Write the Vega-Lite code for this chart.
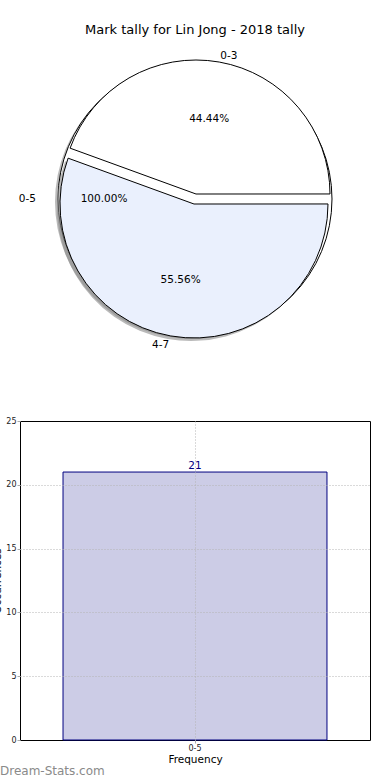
{
  "$schema": "https://vega.github.io/schema/vega-lite/v6.json",
  "padding": {"left": -8, "top": 24, "right": 0, "bottom": 0},
  "background": "white",
  "spacing": 59,
  "config": {"font": "DejaVu Sans", "view": {"stroke": null}},
  "datasets": {
    "whole": [{"label": "0-5", "pct": 100, "pctText": "100.00%"}],
    "slices": [
      {"label": "0-3", "pct": 44.44, "pctText": "44.44%"},
      {"label": "4-7", "pct": 55.56, "pctText": "55.56%"}
    ],
    "bars": [{"range": "0-5", "count": 21}]
  },
  "vconcat": [
    {
      "width": 350,
      "height": 316,
      "title": {"text": "Mark tally for Lin Jong - 2018 tally", "fontSize": 13, "fontWeight": "normal", "anchor": "middle", "offset": 4, "color": "#000000"},
      "resolve": {"scale": {"theta": "independent"}},
      "layer": [
        {
          "data": {"name": "whole"},
          "mark": {"type": "arc", "radius": 137, "fill": "#8c8c8c", "fillOpacity": 0.6, "xOffset": -3, "yOffset": 3},
          "encoding": {"theta": {"field": "pct", "type": "quantitative", "scale": {"domain": [0, 100], "range": [1.5708, 7.854]}}}
        },
        {
          "data": {"name": "whole"},
          "mark": {"type": "arc", "radius": 137, "fill": "white", "stroke": "black", "strokeWidth": 1},
          "encoding": {"theta": {"field": "pct", "type": "quantitative", "scale": {"domain": [0, 100], "range": [1.5708, 7.854]}}}
        },
        {
          "data": {"name": "slices"},
          "transform": [{"stack": "pct", "groupby": [], "as": ["s0", "s1"]}, {"filter": "datum.label === '4-7'"}],
          "mark": {"type": "arc", "radius": 134, "fill": "#8c8c8c", "fillOpacity": 0.6, "xOffset": -4, "yOffset": 8},
          "encoding": {
            "theta": {"field": "s0", "type": "quantitative", "scale": {"domain": [0, 100], "range": [-1.2217, 5.0615]}},
            "theta2": {"field": "s1"}
          }
        },
        {
          "data": {"name": "slices"},
          "transform": [{"stack": "pct", "groupby": [], "as": ["s0", "s1"]}, {"filter": "datum.label === '0-3'"}],
          "mark": {"type": "arc", "radius": 134, "fill": "white", "stroke": "black", "strokeWidth": 1, "xOffset": 1, "yOffset": -5},
          "encoding": {
            "theta": {"field": "s0", "type": "quantitative", "scale": {"domain": [0, 100], "range": [-1.2217, 5.0615]}},
            "theta2": {"field": "s1"}
          }
        },
        {
          "data": {"name": "slices"},
          "transform": [{"stack": "pct", "groupby": [], "as": ["s0", "s1"]}, {"filter": "datum.label === '4-7'"}],
          "mark": {"type": "arc", "radius": 134, "fill": "#eaf0fd", "stroke": "black", "strokeWidth": 1, "xOffset": -1, "yOffset": 5},
          "encoding": {
            "theta": {"field": "s0", "type": "quantitative", "scale": {"domain": [0, 100], "range": [-1.2217, 5.0615]}},
            "theta2": {"field": "s1"}
          }
        },
        {
          "data": {"name": "slices"},
          "mark": {"type": "text", "radius": 140, "align": "left", "baseline": "middle", "fontSize": 10.5, "xOffset": 1, "yOffset": -5, "color": "#000000"},
          "encoding": {
            "theta": {"field": "pct", "type": "quantitative", "stack": true, "scale": {"domain": [0, 100], "range": [-1.2217, 5.0615]}},
            "text": {"condition": {"test": "datum.label === '0-3'", "field": "label"}, "value": ""}
          }
        },
        {
          "data": {"name": "slices"},
          "mark": {"type": "text", "radius": 143, "align": "right", "baseline": "middle", "fontSize": 10.5, "xOffset": -1, "yOffset": 5, "color": "#000000"},
          "encoding": {
            "theta": {"field": "pct", "type": "quantitative", "stack": true, "scale": {"domain": [0, 100], "range": [-1.2217, 5.0615]}},
            "text": {"condition": {"test": "datum.label === '4-7'", "field": "label"}, "value": ""}
          }
        },
        {
          "data": {"name": "slices"},
          "mark": {"type": "text", "radius": 76, "align": "center", "baseline": "middle", "fontSize": 10.5, "xOffset": 1, "yOffset": -5, "color": "#000000"},
          "encoding": {
            "theta": {"field": "pct", "type": "quantitative", "stack": true, "scale": {"domain": [0, 100], "range": [-1.2217, 5.0615]}},
            "text": {"condition": {"test": "datum.label === '0-3'", "field": "pctText"}, "value": ""}
          }
        },
        {
          "data": {"name": "slices"},
          "mark": {"type": "text", "radius": 77, "align": "center", "baseline": "middle", "fontSize": 10.5, "xOffset": -1, "yOffset": 5, "color": "#000000"},
          "encoding": {
            "theta": {"field": "pct", "type": "quantitative", "stack": true, "scale": {"domain": [0, 100], "range": [-1.2217, 5.0615]}},
            "text": {"condition": {"test": "datum.label === '4-7'", "field": "pctText"}, "value": ""}
          }
        },
        {
          "data": {"name": "whole"},
          "mark": {"type": "text", "radius": 159, "align": "right", "baseline": "middle", "fontSize": 10.5, "color": "#000000"},
          "encoding": {
            "theta": {"field": "pct", "type": "quantitative", "stack": true, "scale": {"domain": [0, 100], "range": [1.5708, 7.854]}},
            "text": {"field": "label"}
          }
        },
        {
          "data": {"name": "whole"},
          "mark": {"type": "text", "radius": 91, "align": "center", "baseline": "middle", "fontSize": 10.5, "color": "#000000"},
          "encoding": {
            "theta": {"field": "pct", "type": "quantitative", "stack": true, "scale": {"domain": [0, 100], "range": [1.5708, 7.854]}},
            "text": {"field": "pctText"}
          }
        }
      ]
    },
    {
      "width": 350,
      "height": 319,
      "data": {"name": "bars"},
      "view": {"stroke": "black", "strokeWidth": 1},
      "title": {"text": "Dream-Stats.com", "orient": "bottom", "anchor": "start", "frame": "group", "dx": -20, "offset": 1, "fontSize": 12, "fontWeight": "normal", "color": "#8a8a8a"},
      "encoding": {
        "x": {
          "field": "range", "type": "nominal",
          "scale": {"paddingInner": 0, "paddingOuter": 0.163},
          "axis": {"title": "Frequency", "titleFontSize": 10.5, "titleFontWeight": "normal", "titlePadding": 2, "titleColor": "#000000", "labelFontSize": 8, "labelAngle": 0, "labelColor": "#222222", "labelPadding": 1, "tickSize": 3, "tickColor": "#aaaaaa", "bandPosition": 0.5, "domain": false, "grid": true, "gridColor": "#b4b4b4", "gridDash": [1, 2], "zindex": 1}
        },
        "y": {
          "field": "count", "type": "quantitative",
          "scale": {"domain": [0, 25]},
          "axis": {"values": [0, 5, 10, 15, 20, 25], "title": "Occurrences", "titleFontSize": 10.5, "titleFontWeight": "normal", "titlePadding": 3, "titleColor": "#000000", "labelFontSize": 8, "labelColor": "#222222", "labelPadding": 1, "tickSize": 3, "tickColor": "#aaaaaa", "domain": false, "grid": true, "gridColor": "#b4b4b4", "gridDash": [1, 2], "gridOpacity": {"condition": {"test": "datum.value === 0 || datum.value === 25", "value": 0}, "value": 1}, "zindex": 1}
        }
      },
      "layer": [
        {"mark": {"type": "bar", "fill": "#ccccE6", "stroke": "#000080", "strokeWidth": 1}},
        {"mark": {"type": "text", "color": "#000080", "dy": -3, "baseline": "alphabetic", "fontSize": 10.5}, "encoding": {"text": {"field": "count"}}}
      ]
    }
  ]
}
